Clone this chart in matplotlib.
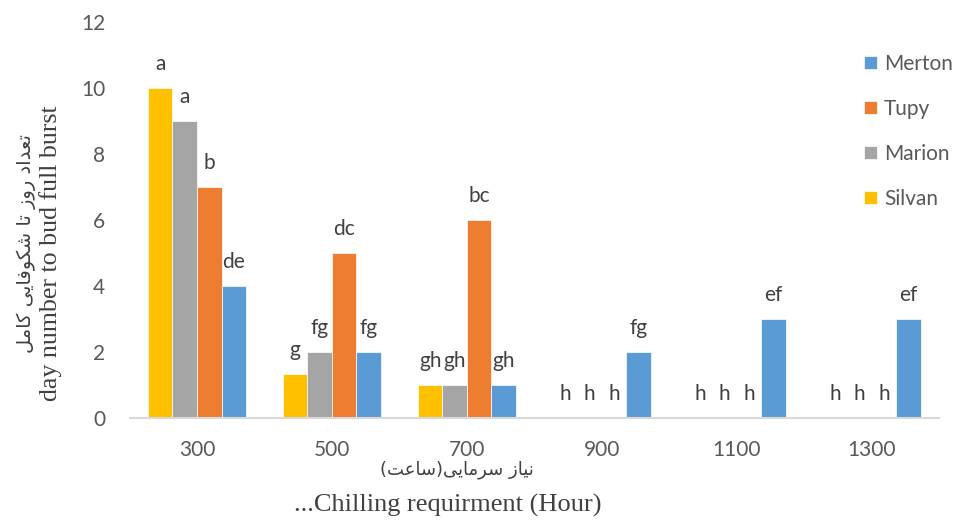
import matplotlib
matplotlib.use("Agg")
import matplotlib.pyplot as plt
import numpy as np

categories = ["300", "500", "700", "900", "1100", "1300"]
series_names = ["Silvan", "Marion", "Tupy", "Merton"]
silvan = [10, 1.33, 1, 0, 0, 0]
marion = [9, 2, 1, 0, 0, 0]
tupy = [7, 5, 6, 0, 0, 0]
merton = [4, 2, 1, 2, 3, 3]
silvan_letters = ["a", "g", "gh", "h", "h", "h"]
marion_letters = ["a", "fg", "gh", "h", "h", "h"]
tupy_letters = ["b", "dc", "bc", "h", "h", "h"]
merton_letters = ["de", "fg", "gh", "fg", "ef", "ef"]
yticks = [0, 2, 4, 6, 8, 10, 12]
ylabel_fa = "تعداد روز تا شکوفایی کامل"
ylabel_en = "day number to bud full burst"
xlabel_fa = "نیاز سرمایی(ساعت)"
xlabel_en = "...Chilling requirment (Hour)"

colors = ["#FFC000", "#A5A5A5", "#ED7D31", "#5B9BD5"]

# --- minimal Persian shaping (presentation forms + visual order) ---
FORMS = {
    "\u0627": ("\uFE8D", "\uFE8E", None, None),
    "\u062A": ("\uFE95", "\uFE96", "\uFE97", "\uFE98"),
    "\u0639": ("\uFEC9", "\uFECA", "\uFECB", "\uFECC"),
    "\u062F": ("\uFEA9", "\uFEAA", None, None),
    "\u0631": ("\uFEAD", "\uFEAE", None, None),
    "\u0648": ("\uFEED", "\uFEEE", None, None),
    "\u0632": ("\uFEAF", "\uFEB0", None, None),
    "\u0634": ("\uFEB5", "\uFEB6", "\uFEB7", "\uFEB8"),
    "\u06A9": ("\uFB8E", "\uFB8F", "\uFB90", "\uFB91"),
    "\u0641": ("\uFED1", "\uFED2", "\uFED3", "\uFED4"),
    "\u06CC": ("\uFBFC", "\uFBFD", "\uFBFE", "\uFBFF"),
    "\u0645": ("\uFEE1", "\uFEE2", "\uFEE3", "\uFEE4"),
    "\u0644": ("\uFEDD", "\uFEDE", "\uFEDF", "\uFEE0"),
    "\u0646": ("\uFEE5", "\uFEE6", "\uFEE7", "\uFEE8"),
    "\u0633": ("\uFEB1", "\uFEB2", "\uFEB3", "\uFEB4"),
}
MIRROR = {"(": ")", ")": "("}


def shape(text):
    out = []
    n = len(text)
    for i, ch in enumerate(text):
        if ch not in FORMS:
            out.append(MIRROR.get(ch, ch))
            continue
        f = FORMS[ch]
        prev = text[i - 1] if i > 0 else None
        nxt = text[i + 1] if i < n - 1 else None
        cp = prev in FORMS and FORMS[prev][2] is not None
        cn = f[2] is not None and nxt in FORMS
        if cp and cn:
            g = f[3]
        elif cp:
            g = f[1]
        elif cn:
            g = f[2]
        else:
            g = f[0]
        out.append(g)
    return "".join(reversed(out))


fig = plt.figure(figsize=(9.6, 5.2), dpi=100)
ax = fig.add_axes([0.1349, 0.1962, 0.8437, 0.7615])

x = np.arange(len(categories))
w = 0.1815
all_vals = [silvan, marion, tupy, merton]
all_letters = [silvan_letters, marion_letters, tupy_letters, merton_letters]
handles = []
for k, (vals, lets) in enumerate(zip(all_vals, all_letters)):
    pos = x + (k - 1.5) * w
    b = ax.bar(pos, vals, width=w, color=colors[k], edgecolor="white",
               linewidth=0.5, label=series_names[k], zorder=2)
    handles.append(b)
    for px, v, lab in zip(pos, vals, lets):
        ax.annotate(lab, (px, v), xytext=(0, 17.5), textcoords="offset points",
                    ha="center", va="center", fontsize=15,
                    family="Lato", color="#404040")

ax.set_xlim(-0.5, len(categories) - 0.5)
ax.set_ylim(0, 12)
ax.set_yticks(yticks)
ax.set_yticklabels([str(t) for t in yticks])
ax.set_xticks(x)
ax.set_xticklabels(categories)
for s in ["top", "right", "left"]:
    ax.spines[s].set_visible(False)
ax.spines["bottom"].set_color("#D9D9D9")
ax.spines["bottom"].set_linewidth(1.5)
ax.tick_params(axis="both", length=0, labelsize=15, labelcolor="#595959")
ax.tick_params(axis="y", pad=17.5)
ax.tick_params(axis="x", pad=15.5)
for t in ax.get_xticklabels() + ax.get_yticklabels():
    t.set_family("Lato")

leg_order = [3, 2, 1, 0]
fig.legend([handles[i] for i in leg_order], [series_names[i] for i in leg_order],
           loc="upper left", bbox_to_anchor=(864 / 960, 1 - 54 / 520),
           frameon=False, prop={"family": "Lato", "size": 15},
           labelcolor="#595959", handlelength=0.63, handleheight=0.63,
           handletextpad=0.34, labelspacing=1.2, borderaxespad=0,
           borderpad=0)

fig.text(26 / 960, 1 - 244 / 520, shape(ylabel_fa), rotation=90, ha="center",
         va="center", fontsize=14, family="DejaVu Sans", color="#404040")
fig.text(51 / 960, 1 - 253 / 520, ylabel_en, rotation=90, ha="center",
         va="center", fontsize=18.6, family="Liberation Serif", color="#404040")
fig.text(457 / 960, 1 - 470 / 520, shape(xlabel_fa), ha="center", va="center",
         fontsize=13, family="DejaVu Sans", color="#404040")
fig.text(448 / 960, 1 - 505 / 520, xlabel_en, ha="center", va="center",
         fontsize=19, family="Liberation Serif", color="#404040")

fig.savefig("out.png", dpi=100)
